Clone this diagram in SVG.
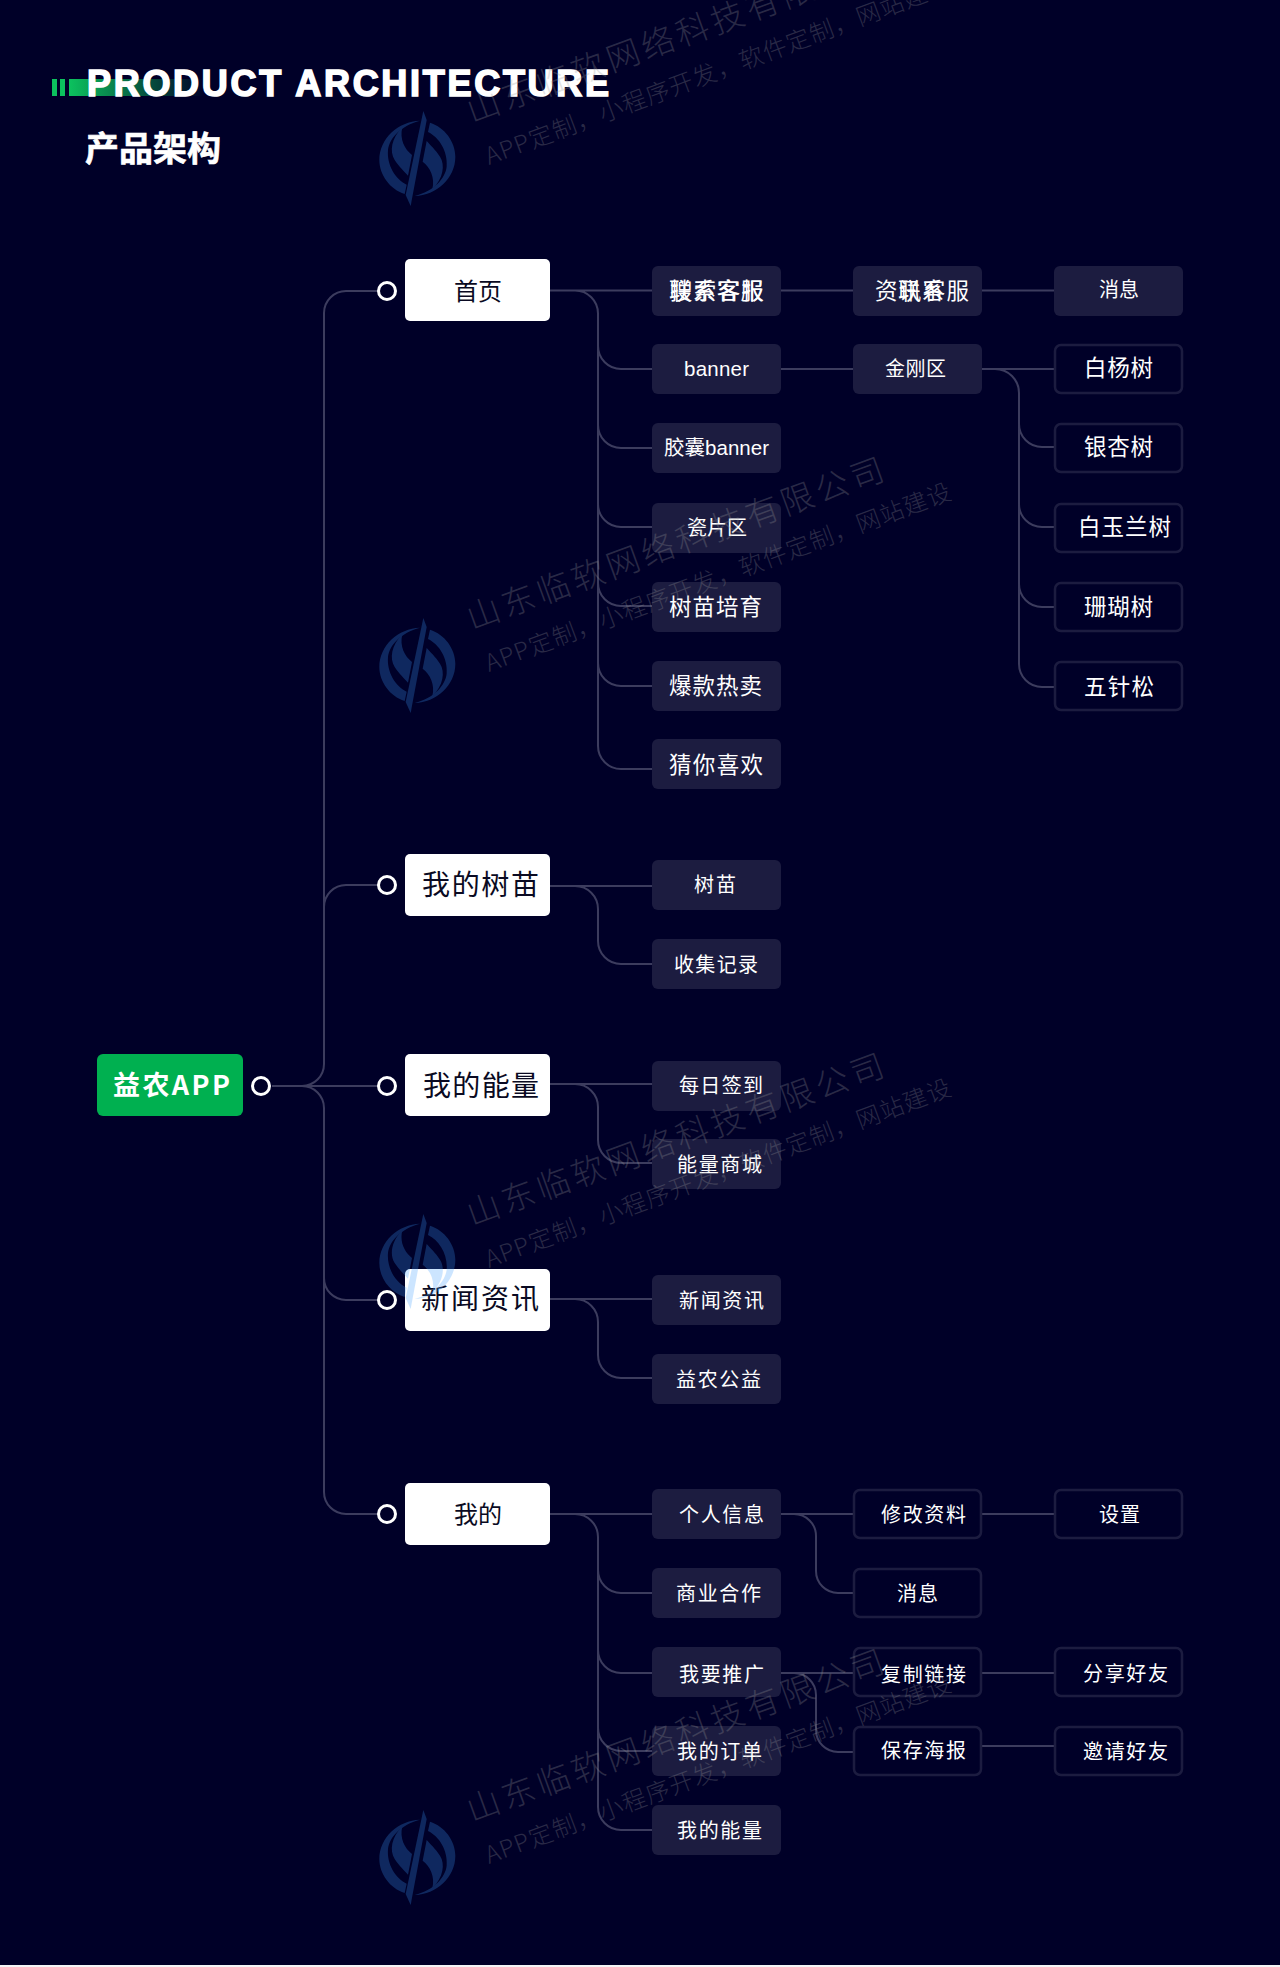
<svg xmlns="http://www.w3.org/2000/svg" xmlns:xlink="http://www.w3.org/1999/xlink" width="1280" height="1967" viewBox="0 0 1280 1967">
<style>
text{font-family:"Noto Sans CJK SC","Noto Sans",sans-serif;fill:#fff}
.c{fill:none;stroke:#3c3c5e;stroke-width:2}
.main{fill:#fff}
.mt{fill:#0a0a22;font-size:28px}
.mt2{fill:#0a0a22;font-size:24px}
.f{fill:#1c1c40}
.o{fill:none;stroke:#1c1c40;stroke-width:2.5}
.l{font-size:20px}
.b{font-size:22.500px}
.en{font-family:"Liberation Sans","Noto Sans CJK SC",sans-serif;font-size:20.500px}
.s{fill:#000028;stroke:#fff;stroke-width:3}
.w1{font-size:33px;fill:#999;opacity:.27;font-weight:300}
.w2{font-size:24px;fill:#999;opacity:.27;font-weight:300}
.lg{fill:rgb(59,157,255);opacity:.255}
</style>
<defs>
<linearGradient id="gb" x1="0" x2="1" y1="0" y2="0"><stop offset="0" stop-color="#0cc25e"/><stop offset="1" stop-color="#0cc25e" stop-opacity="0"/></linearGradient>
<g id="half">
<path d="M150,32C85,34 28,85 28,150C28,195 60,238 104,252L110,224C76,208 50,165 54,120C58,85 92,47 150,32Z"/>
<path d="M97,52C64,85 58,125 74,150C87,170 105,187 114,197L126,135C104,118 88,88 97,52Z"/>
</g>
<g id="logo">
<use xlink:href="#half" href="#half"/>
<use xlink:href="#half" href="#half" transform="rotate(180 142 145)"/>
<path d="M160,3L170,30L122,288L107,255Z"/>
</g>
</defs>
<rect width="1280" height="1967" fill="#000028"/>
<rect y="1965" width="1280" height="2" fill="#f4f4f6"/>

<g id="header">
<rect x="52" y="79" width="5" height="17" fill="#0cc25e"/>
<rect x="60" y="79" width="5" height="17" fill="#0cc25e"/>
<rect x="69" y="79" width="135" height="17" fill="url(#gb)"/>
<text x="87" y="96" textLength="522" style="font-family:'Liberation Sans',sans-serif;font-size:36px;font-weight:700;stroke:#fff;stroke-width:1.600">PRODUCT ARCHITECTURE</text>
<text x="85" y="161" style="font-size:34px;font-weight:700;stroke:#fff;stroke-width:.6">产品架构</text>
</g>

<g id="connectors">
<path class="c" d="M272 1086H378"/>
<path class="c" d="M302 1086A22 22 0 0 0 324 1064V313A22 22 0 0 1 346 291H378"/>
<path class="c" d="M324 907A22 22 0 0 1 346 885H378"/>
<path class="c" d="M302 1086A22 22 0 0 1 324 1108V1492A22 22 0 0 0 346 1514H378"/>
<path class="c" d="M324 1278A22 22 0 0 0 346 1300H378"/>
<path class="c" d="M550 290.500H652M575 290.500A23 23 0 0 1 598 313.500V746A23 23 0 0 0 621 769H652"/>
<path class="c" d="M598 346A23 23 0 0 0 621 369H652M598 425A23 23 0 0 0 621 448H652M598 504A23 23 0 0 0 621 527H652M598 583A23 23 0 0 0 621 606H652M598 663A23 23 0 0 0 621 686H652"/>
<path class="c" d="M781 290.500H853M781 369H853M982 290.500H1054M982 369H1054M995 369A24 24 0 0 1 1019 393V664A23 23 0 0 0 1042 687H1054"/>
<path class="c" d="M1019 424A23 23 0 0 0 1042 447H1054M1019 504A23 23 0 0 0 1042 527H1054M1019 584A23 23 0 0 0 1042 607H1054"/>
<path class="c" d="M550 886H652M575 886A23 23 0 0 1 598 909V941A23 23 0 0 0 621 964H652"/>
<path class="c" d="M550 1084H652M575 1084A23 23 0 0 1 598 1107V1140A23 23 0 0 0 621 1163H652"/>
<path class="c" d="M550 1299H652M575 1299A23 23 0 0 1 598 1322V1355A23 23 0 0 0 621 1378H652"/>
<path class="c" d="M550 1514H652M575 1514A23 23 0 0 1 598 1537V1807A23 23 0 0 0 621 1830H652"/>
<path class="c" d="M598 1570A23 23 0 0 0 621 1593H652M598 1650A23 23 0 0 0 621 1673H652M598 1728A23 23 0 0 0 621 1751H652"/>
<path class="c" d="M781 1514H853M794 1514A22 22 0 0 1 816 1536V1571A22 22 0 0 0 838 1593H853M982 1514H1054"/>
<path class="c" d="M781 1673H853M794 1673A22 22 0 0 1 816 1695V1730A22 22 0 0 0 838 1752H853M982 1673H1054M982 1746H1054"/>
</g>

<g id="root"><rect x="97" y="1054" width="146" height="62" rx="6" fill="#00b050"/><text x="113" y="1095" textLength="117" style="font-size:27px;font-weight:700">益农APP</text><circle class="s" cx="261" cy="1086" r="8.500"/></g>

<g id="n-home"><circle class="s" cx="387" cy="291" r="8.500"/><rect class="main" x="405" y="259" width="145" height="62" rx="5"/><text class="mt2" x="454" y="300" textLength="48">首页</text></g>
<g id="n-tree"><circle class="s" cx="387" cy="885" r="8.500"/><rect class="main" x="405" y="854" width="145" height="62" rx="5"/><text class="mt" x="422" y="895" textLength="117">我的树苗</text></g>
<g id="n-energy"><circle class="s" cx="387" cy="1086" r="8.500"/><rect class="main" x="405" y="1054" width="145" height="62" rx="5"/><text class="mt" x="423" y="1096" textLength="116">我的能量</text></g>
<g id="n-news"><circle class="s" cx="387" cy="1300" r="8.500"/><rect class="main" x="405" y="1269" width="145" height="62" rx="5"/><text class="mt" x="421" y="1309" textLength="118">新闻资讯</text></g>
<g id="n-me"><circle class="s" cx="387" cy="1514" r="8.500"/><rect class="main" x="405" y="1483" width="145" height="62" rx="5"/><text class="mt2" x="454" y="1523" textLength="48">我的</text></g>

<g id="a1"><rect class="f" x="652" y="266" width="129" height="50" rx="6"/><text class="b" x="669" y="299" textLength="94">联系客服</text><text class="b" x="670" y="299" textLength="94">搜索客报</text></g>
<g id="a2"><rect class="f" x="652" y="344" width="129" height="50" rx="6"/><text class="en" x="684" y="376" textLength="65">banner</text></g>
<g id="a3"><rect class="f" x="652" y="423" width="129" height="50" rx="6"/><text class="en" x="664" y="455" textLength="105">胶囊banner</text></g>
<g id="a4"><rect class="f" x="652" y="503" width="129" height="50" rx="6"/><text class="l" x="687" y="535" textLength="60">瓷片区</text></g>
<g id="a5"><rect class="f" x="652" y="582" width="129" height="50" rx="6"/><text class="b" x="669" y="615" textLength="93">树苗培育</text></g>
<g id="a6"><rect class="f" x="652" y="661" width="129" height="50" rx="6"/><text class="b" x="669" y="694" textLength="93">爆款热卖</text></g>
<g id="a7"><rect class="f" x="652" y="739" width="129" height="50" rx="6"/><text class="b" x="669" y="773" textLength="94">猜你喜欢</text></g>
<g id="b1"><rect class="f" x="853" y="266" width="129" height="50" rx="6"/><text class="b" x="875" y="299" textLength="94">资讯客服</text><text class="b" x="898" y="299" textLength="46">联系</text></g>
<g id="b2"><rect class="f" x="853" y="344" width="129" height="50" rx="6"/><text class="l" x="885" y="376" textLength="61">金刚区</text></g>
<g id="c1"><rect class="f" x="1054" y="266" width="129" height="50" rx="6"/><text class="l" x="1099" y="297" textLength="40">消息</text></g>
<g id="c2"><rect class="o" x="1055" y="345" width="127" height="48" rx="6"/><text class="b" x="1084" y="376" textLength="69">白杨树</text></g>
<g id="c3"><rect class="o" x="1055" y="424" width="127" height="48" rx="6"/><text class="b" x="1084" y="455" textLength="69">银杏树</text></g>
<g id="c4"><rect class="o" x="1055" y="504" width="127" height="48" rx="6"/><text class="b" x="1078" y="535" textLength="93">白玉兰树</text></g>
<g id="c5"><rect class="o" x="1055" y="583" width="127" height="48" rx="6"/><text class="b" x="1084" y="615" textLength="69">珊瑚树</text></g>
<g id="c6"><rect class="o" x="1055" y="662" width="127" height="48" rx="6"/><text class="b" x="1084" y="695" textLength="70">五针松</text></g>

<g id="d1"><rect class="f" x="652" y="860" width="129" height="50" rx="6"/><text class="l" x="694" y="892" textLength="42">树苗</text></g>
<g id="d2"><rect class="f" x="652" y="939" width="129" height="50" rx="6"/><text class="l" x="674" y="972" textLength="84">收集记录</text></g>
<g id="e1"><rect class="f" x="652" y="1061" width="129" height="50" rx="6"/><text class="l" x="679" y="1093" textLength="84">每日签到</text></g>
<g id="e2"><rect class="f" x="652" y="1139" width="129" height="50" rx="6"/><text class="l" x="677" y="1172" textLength="85">能量商城</text></g>
<g id="f1"><rect class="f" x="652" y="1275" width="129" height="50" rx="6"/><text class="l" x="679" y="1308" textLength="85">新闻资讯</text></g>
<g id="f2"><rect class="f" x="652" y="1354" width="129" height="50" rx="6"/><text class="l" x="676" y="1387" textLength="85">益农公益</text></g>
<g id="g1"><rect class="f" x="652" y="1489" width="129" height="50" rx="6"/><text class="l" x="679" y="1522" textLength="85">个人信息</text></g>
<g id="g2"><rect class="f" x="652" y="1568" width="129" height="50" rx="6"/><text class="l" x="676" y="1601" textLength="85">商业合作</text></g>
<g id="g3"><rect class="f" x="652" y="1647" width="129" height="50" rx="6"/><text class="l" x="679" y="1682" textLength="85">我要推广</text></g>
<g id="g4"><rect class="f" x="652" y="1726" width="129" height="50" rx="6"/><text class="l" x="677" y="1759" textLength="85">我的订单</text></g>
<g id="g5"><rect class="f" x="652" y="1805" width="129" height="50" rx="6"/><text class="l" x="677" y="1838" textLength="85">我的能量</text></g>
<g id="h1"><rect class="o" x="854" y="1490" width="127" height="48" rx="6"/><text class="l" x="881" y="1522" textLength="85">修改资料</text></g>
<g id="h2"><rect class="o" x="854" y="1569" width="127" height="48" rx="6"/><text class="l" x="897" y="1601" textLength="41">消息</text></g>
<g id="h3"><rect class="o" x="854" y="1648" width="127" height="48" rx="6"/><text class="l" x="881" y="1682" textLength="85">复制链接</text></g>
<g id="h4"><rect class="o" x="854" y="1727" width="127" height="48" rx="6"/><text class="l" x="881" y="1758" textLength="85">保存海报</text></g>
<g id="i1"><rect class="o" x="1055" y="1490" width="127" height="48" rx="6"/><text class="l" x="1099" y="1522" textLength="41">设置</text></g>
<g id="i2"><rect class="o" x="1055" y="1648" width="127" height="48" rx="6"/><text class="l" x="1083" y="1681" textLength="85">分享好友</text></g>
<g id="i3"><rect class="o" x="1055" y="1727" width="127" height="48" rx="6"/><text class="l" x="1083" y="1759" textLength="85">邀请好友</text></g>

<g id="watermarks">
<g id="wm1"><use xlink:href="#logo" href="#logo" class="lg" transform="translate(370 110) scale(.3333)"/><text class="w1" transform="translate(472 123) rotate(-20)" textLength="441">山东临软网络科技有限公司</text><text class="w2" transform="translate(489 165) rotate(-20.500)" textLength="495">APP定制，小程序开发，软件定制，网站建设</text></g>
<g id="wm2"><use xlink:href="#logo" href="#logo" class="lg" transform="translate(370 617) scale(.3333)"/><text class="w1" transform="translate(472 630) rotate(-20)" textLength="441">山东临软网络科技有限公司</text><text class="w2" transform="translate(489 672) rotate(-20.500)" textLength="495">APP定制，小程序开发，软件定制，网站建设</text></g>
<g id="wm3"><use xlink:href="#logo" href="#logo" class="lg" transform="translate(370 1213) scale(.3333)"/><text class="w1" transform="translate(472 1226) rotate(-20)" textLength="441">山东临软网络科技有限公司</text><text class="w2" transform="translate(489 1268) rotate(-20.500)" textLength="495">APP定制，小程序开发，软件定制，网站建设</text></g>
<g id="wm4"><use xlink:href="#logo" href="#logo" class="lg" transform="translate(370 1809) scale(.3333)"/><text class="w1" transform="translate(472 1822) rotate(-20)" textLength="441">山东临软网络科技有限公司</text><text class="w2" transform="translate(489 1864) rotate(-20.500)" textLength="495">APP定制，小程序开发，软件定制，网站建设</text></g>
</g>
</svg>
